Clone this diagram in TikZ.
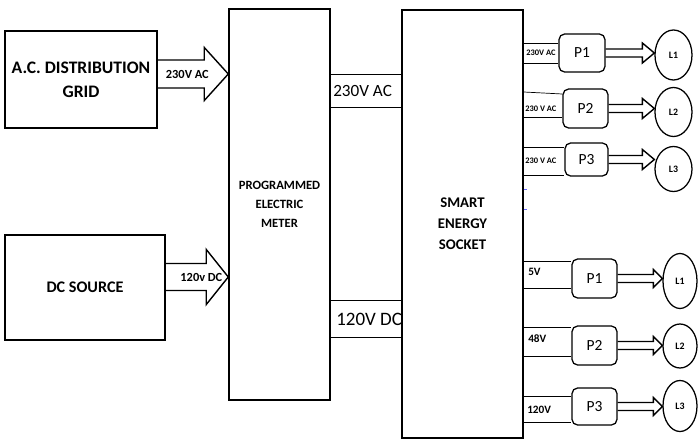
\documentclass[tikz,border=0pt]{standalone}
\usepackage{fontspec}
\setmainfont{Carlito}
\usetikzlibrary{calc,shapes.geometric}
\newcommand{\hollowarrow}[5]{%
  \draw[fat] ($(#1)+(0,#3)$) -- ($(#2)+(-#5,#3)$) -- ($(#2)+(-#5,#4)$) -- (#2)
    -- ($(#2)+(-#5,-#4)$) -- ($(#2)+(-#5,-#3)$) -- ($(#1)+(0,-#3)$);}
\begin{document}
\begin{tikzpicture}[x=0.025cm, y=-0.025cm,
  blk/.style={draw, line width=1pt, align=center, inner sep=0pt},
  pbox/.style={draw, line width=0.9pt, rounded corners=4pt, inner sep=0pt, minimum width=1.125cm, minimum height=0.975cm, font=\fontsize{11}{13}\selectfont},
  load/.style={draw, ellipse, line width=0.9pt, inner sep=0pt, font=\bfseries\fontsize{7}{8}\selectfont},
  fat/.style={line width=1pt, line join=miter},
  wire/.style={line width=0.5pt},
  tag/.style={anchor=west, inner sep=0pt, font=\bfseries\fontsize{6}{7}\selectfont},
  albl/.style={inner sep=0pt, font=\bfseries\fontsize{8.8}{10}\selectfont},
  stray/.style={line width=0.5pt, draw=blue!60}
]
  \useasboundingbox (0,0) rectangle (699,441);

  \node[blk, minimum width=3.8cm, minimum height=2.425cm, font=\bfseries\fontsize{12.5}{17}\selectfont] (grid) at (81,79.5) {A.C. DISTRIBUTION\\GRID};
  \node[blk, minimum width=4cm, minimum height=2.625cm, font=\bfseries\fontsize{11.5}{14}\selectfont] (dcs) at (85,287.5) {DC SOURCE};
  \node[blk, minimum width=2.525cm, minimum height=9.775cm, font=\bfseries\fontsize{9}{13.5}\selectfont] (meter) at (279.5,204.5) {PROGRAMMED\\ELECTRIC\\METER};
  \node[blk, minimum width=3.025cm, minimum height=10.7cm, font=\bfseries\fontsize{10.5}{15}\selectfont] (socket) at (462.5,224) {SMART\\ENERGY\\SOCKET};

  \coordinate (acin) at (grid.east |- 0,74);
  \coordinate (actip) at (meter.west |- 0,74);
  \hollowarrow{acin}{actip}{14}{26.5}{24}
  \node[albl] (aclbl) at ($(acin)!0.42!(actip)$) {230V AC};

  \coordinate (dcin) at (dcs.east |- 0,277);
  \coordinate (dctip) at (meter.west |- 0,277);
  \hollowarrow{dcin}{dctip}{13.5}{27.5}{22}
  \node[albl] (dclbl) at ($(dcin)!0.57!(dctip)$) {120v DC};

  \draw[wire] (meter.east |- 0,74) -- (socket.west |- 0,74);
  \draw[wire] (meter.east |- 0,107) -- (socket.west |- 0,107);
  \node[anchor=west, inner sep=0pt, font=\fontsize{12.2}{14}\selectfont] (acbus) at (333,91) {230V AC};
  \draw[wire] (meter.east |- 0,300) -- (socket.west |- 0,300);
  \draw[wire] (meter.east |- 0,337) -- (socket.west |- 0,337);
  \node[anchor=west, inner sep=0pt, font=\fontsize{13.5}{15}\selectfont] (dcbus) at (336,319) {120V DC};

  \node[pbox, minimum width=1.15cm, minimum height=0.95cm] (p1a) at (582,53) {P1};
  \node[pbox] (p2a) at (585.5,108.5) {P2};
  \node[pbox, minimum width=1.075cm, minimum height=0.825cm] (p3a) at (586.5,159.5) {P3};
  \node[pbox] (p1b) at (594.5,278.5) {P1};
  \node[pbox] (p2b) at (594.5,345.5) {P2};
  \node[pbox, minimum height=0.925cm] (p3b) at (594.5,406.5) {P3};

  \node[load, minimum width=0.925cm, minimum height=1.25cm] (l1a) at (673.5,55) {L1};
  \node[load, minimum width=0.925cm, minimum height=1.225cm] (l2a) at (673.5,112) {L2};
  \node[load, minimum width=0.925cm, minimum height=1.125cm] (l3a) at (673.5,169) {L3};
  \node[load, minimum width=0.85cm, minimum height=1.375cm] (l1b) at (680,281) {L1};
  \node[load, minimum width=0.85cm, minimum height=1.1cm] (l2b) at (680,346) {L2};
  \node[load, minimum width=0.85cm, minimum height=1.275cm] (l3b) at (680,406) {L3};

  \draw[wire] (socket.east |- 0,43) -- (p1a.west |- 0,43);
  \draw[wire] (socket.east |- 0,63) -- (p1a.west |- 0,63);
  \draw[wire] (socket.east |- 0,92) -- (p2a.west |- 0,94);
  \draw[wire] (socket.east |- 0,117) -- (p2a.west |- 0,117);
  \draw[wire] (socket.east |- 0,147) -- (p3a.west |- 0,147);
  \draw[wire] (socket.east |- 0,175) -- (p3a.west |- 0,175);
  \draw[wire] (socket.east |- 0,261) -- (p1b.west |- 0,261);
  \draw[wire] (socket.east |- 0,288) -- (p1b.west |- 0,288);
  \draw[wire] (socket.east |- 0,327) -- (p2b.west |- 0,327);
  \draw[wire] (socket.east |- 0,356) -- (p2b.west |- 0,356);
  \draw[wire] (socket.east |- 0,396) -- (p3b.west |- 0,396);
  \draw[wire] (socket.east |- 0,422) -- (p3b.west |- 0,422);

  \node[tag] (t1a) at (526,53) {230V AC};
  \node[tag] (t2a) at (525,109) {230 V AC};
  \node[tag] (t3a) at (525,161) {230 V AC};
  \node[tag, font=\bfseries\fontsize{8}{9}\selectfont] (t1b) at (528,272) {5V};
  \node[tag, font=\bfseries\fontsize{8}{9}\selectfont] (t2b) at (528,339) {48V};
  \node[tag, font=\bfseries\fontsize{8}{9}\selectfont] (t3b) at (527,410) {120V};

  \hollowarrow{p1a.east}{l1a.west |- p1a.east}{4}{10}{12}
  \hollowarrow{p2a.east}{l2a.west |- p2a.east}{4}{10}{12}
  \hollowarrow{p3a.east}{l3a.west |- p3a.east}{4}{10}{12}
  \hollowarrow{p1b.east}{l1b.west |- p1b.east}{4}{9}{9}
  \hollowarrow{p2b.east}{l2b.west |- p2b.east}{4}{9}{9}
  \hollowarrow{p3b.east}{l3b.west |- p3b.east}{4}{9}{9}

  \draw[stray] (socket.east |- 0,189) -- ++(3,0);
  \draw[stray] (socket.east |- 0,209) -- ++(3,0);
\end{tikzpicture}
\end{document}
